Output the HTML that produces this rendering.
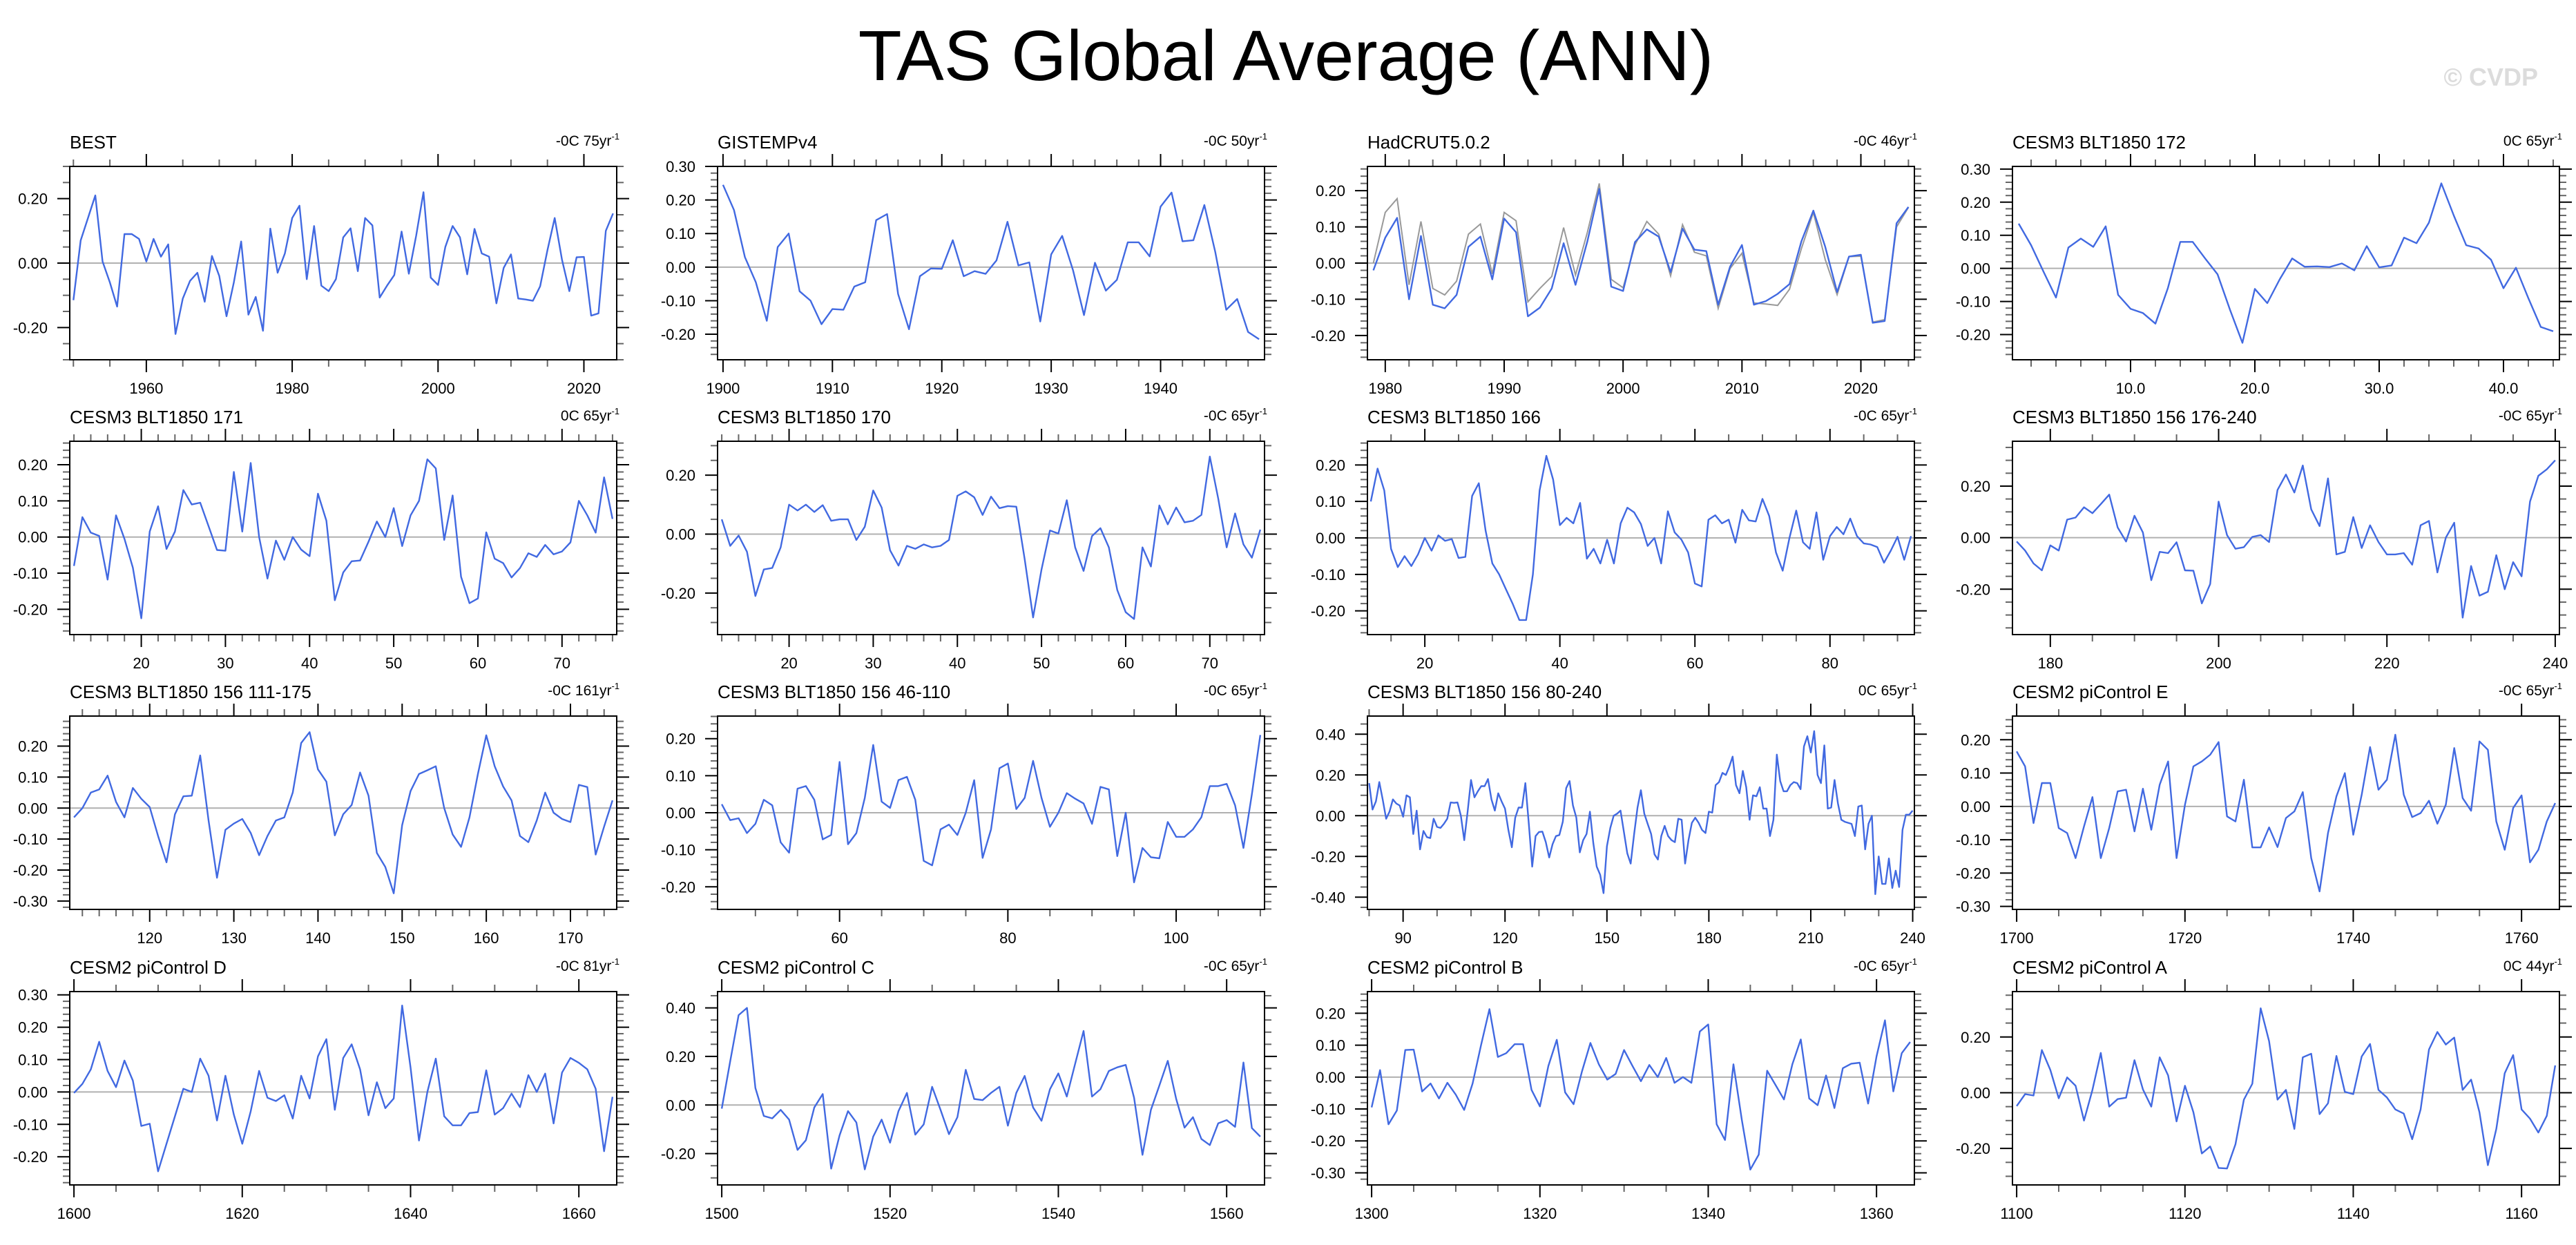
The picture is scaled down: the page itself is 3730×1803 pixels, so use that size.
<!DOCTYPE html>
<html><head><meta charset="utf-8"><title>TAS Global Average (ANN)</title>
<style>
html,body{margin:0;padding:0;background:#fff;}
body{width:3730px;height:1798px;overflow:hidden;position:relative;font-family:"Liberation Sans",sans-serif;}
svg text{font-family:"Liberation Sans",sans-serif;}
</style></head>
<body>
<svg id="chart" width="3730" height="1798" viewBox="0 0 3730 1798" xmlns="http://www.w3.org/2000/svg">
<text x="1862" y="116" font-size="103" text-anchor="middle" fill="#000">TAS Global Average (ANN)</text>
<text x="3675" y="124" font-size="36" font-weight="bold" text-anchor="end" fill="#dcdcdc">© CVDP</text>
</svg>
<script>
const titles = ["BEST","GISTEMPv4","HadCRUT5.0.2","CESM3 BLT1850 172","CESM3 BLT1850 171","CESM3 BLT1850 170","CESM3 BLT1850 166","CESM3 BLT1850 156 176-240","CESM3 BLT1850 156 111-175","CESM3 BLT1850 156 46-110","CESM3 BLT1850 156 80-240","CESM2 piControl E","CESM2 piControl D","CESM2 piControl C","CESM2 piControl B","CESM2 piControl A"];
const notes = ["-0C 75yr","-0C 50yr","-0C 46yr","0C 65yr","0C 65yr","-0C 65yr","-0C 65yr","-0C 65yr","-0C 161yr","-0C 65yr","0C 65yr","-0C 65yr","-0C 81yr","-0C 65yr","-0C 65yr","0C 44yr"];
const startYears = [1950,1900,1979,1,12,12,12,176,111,46,80,1700,1600,1500,1300,1100];
const yMins = [-0.30,-0.276,-0.267,-0.276,-0.27,-0.341,-0.265,-0.376,-0.327,-0.261,-0.46,-0.309,-0.287,-0.329,-0.338,-0.331];
const yMaxs = [0.30,0.30,0.267,0.308,0.265,0.315,0.265,0.374,0.297,0.261,0.489,0.271,0.31,0.467,0.268,0.363];
const yMajors = [0.2,0.1,0.1,0.1,0.1,0.2,0.1,0.2,0.1,0.1,0.2,0.1,0.1,0.2,0.1,0.2];
const yMinors = [0.05,0.02,0.02,0.02,0.02,0.05,0.02,0.05,0.02,0.02,0.05,0.02,0.02,0.05,0.02,0.05];
const xMajors = [20,10,10,10,10,10,20,20,10,20,30,20,20,20,20,20];
const xMinors = [5,2,2,2,2,2,5,5,2,5,10,5,5,5,5,5];
const xDecimals = [0,0,0,1,0,0,0,0,0,0,0,0,0,0,0,0];

const best = [-0.115,0.07,0.14,0.21,0.005,-0.06,-0.135,0.09,0.09,0.075,0.005,0.075,0.02,0.058,-0.22,-0.11,-0.055,-0.03,-0.12,0.022,-0.04,-0.165,-0.06,0.067,-0.16,-0.105,-0.21,0.107,-0.03,0.03,0.14,0.178,-0.05,0.115,-0.07,-0.087,-0.05,0.08,0.108,-0.025,0.14,0.117,-0.107,-0.07,-0.037,0.098,-0.033,0.085,0.22,-0.045,-0.068,0.05,0.115,0.08,-0.035,0.106,0.03,0.02,-0.125,-0.015,0.027,-0.11,-0.113,-0.117,-0.072,0.04,0.14,0.01,-0.087,0.018,0.019,-0.163,-0.156,0.1,0.154];
const gistemp = [0.245,0.17,0.03,-0.045,-0.16,0.06,0.1,-0.072,-0.1,-0.17,-0.125,-0.127,-0.058,-0.045,0.14,0.158,-0.08,-0.185,-0.027,-0.004,-0.005,0.08,-0.027,-0.012,-0.02,0.02,0.135,0.005,0.014,-0.162,0.038,0.093,-0.01,-0.143,0.013,-0.07,-0.038,0.074,0.074,0.032,0.18,0.222,0.077,0.08,0.185,0.045,-0.127,-0.095,-0.193,-0.215];
const hadcrut = [-0.02,0.07,0.125,-0.1,0.075,-0.115,-0.125,-0.088,0.045,0.073,-0.045,0.123,0.085,-0.147,-0.123,-0.07,0.055,-0.06,0.06,0.205,-0.065,-0.077,0.058,0.093,0.073,-0.025,0.095,0.037,0.033,-0.115,-0.01,0.05,-0.115,-0.105,-0.085,-0.058,0.06,0.145,0.045,-0.08,0.018,0.023,-0.165,-0.16,0.11,0.155];
const hadcrutRef = [0.0,0.14,0.178,-0.06,0.115,-0.07,-0.088,-0.05,0.08,0.108,-0.03,0.14,0.117,-0.107,-0.07,-0.037,0.098,-0.033,0.085,0.22,-0.045,-0.068,0.05,0.115,0.08,-0.035,0.106,0.03,0.02,-0.125,-0.015,0.027,-0.11,-0.113,-0.117,-0.072,0.04,0.14,0.01,-0.087,0.018,0.019,-0.163,-0.156,0.1,0.154];
const m172 = [0.135,0.07,-0.01,-0.088,0.063,0.09,0.065,0.127,-0.08,-0.122,-0.135,-0.167,-0.06,0.08,0.08,0.03,-0.018,-0.125,-0.225,-0.062,-0.105,-0.033,0.03,0.005,0.006,0.004,0.015,-0.006,0.067,0.003,0.009,0.093,0.076,0.138,0.257,0.16,0.07,0.06,0.026,-0.06,0.002,-0.09,-0.177,-0.19];
const m171 = [-0.08,0.055,0.012,0.003,-0.118,0.06,-0.005,-0.085,-0.225,0.015,0.085,-0.033,0.015,0.13,0.09,0.095,0.03,-0.036,-0.038,0.18,0.015,0.205,0.0,-0.115,-0.01,-0.063,0.0,-0.035,-0.053,0.12,0.045,-0.175,-0.098,-0.067,-0.065,-0.013,0.043,0.0,0.08,-0.025,0.06,0.1,0.215,0.19,-0.008,0.115,-0.11,-0.183,-0.17,0.013,-0.06,-0.072,-0.112,-0.086,-0.045,-0.055,-0.022,-0.048,-0.04,-0.015,0.1,0.06,0.012,0.165,0.05];
const m170 = [0.05,-0.04,-0.005,-0.06,-0.21,-0.12,-0.115,-0.045,0.1,0.08,0.1,0.075,0.098,0.045,0.05,0.05,-0.02,0.025,0.148,0.09,-0.055,-0.107,-0.04,-0.05,-0.035,-0.045,-0.04,-0.02,0.13,0.145,0.125,0.065,0.127,0.088,0.095,0.093,-0.085,-0.283,-0.12,0.012,0.002,0.115,-0.045,-0.125,-0.007,0.02,-0.045,-0.19,-0.265,-0.288,-0.045,-0.11,0.097,0.033,0.09,0.04,0.045,0.065,0.263,0.12,-0.045,0.07,-0.035,-0.08,0.015];
const m166 = [0.1,0.19,0.13,-0.03,-0.08,-0.05,-0.077,-0.045,0.0,-0.035,0.007,-0.008,-0.003,-0.055,-0.052,0.115,0.15,0.02,-0.07,-0.1,-0.14,-0.18,-0.225,-0.225,-0.1,0.13,0.225,0.16,0.035,0.055,0.04,0.096,-0.057,-0.03,-0.07,-0.005,-0.07,0.04,0.083,0.07,0.038,-0.022,0.0,-0.07,0.073,0.015,-0.005,-0.04,-0.125,-0.133,0.05,0.062,0.04,0.05,-0.013,0.077,0.048,0.045,0.107,0.06,-0.04,-0.09,0.0,0.075,-0.012,-0.03,0.07,-0.06,0.005,0.03,0.01,0.053,0.005,-0.015,-0.018,-0.025,-0.068,-0.035,0.003,-0.06,0.005];
const m156a = [-0.015,-0.05,-0.1,-0.127,-0.03,-0.05,0.07,0.078,0.118,0.095,0.13,0.167,0.04,-0.015,0.085,0.02,-0.165,-0.055,-0.06,-0.018,-0.127,-0.128,-0.255,-0.18,0.14,0.01,-0.043,-0.037,0.003,0.01,-0.017,0.185,0.245,0.175,0.28,0.11,0.045,0.23,-0.065,-0.055,0.08,-0.04,0.048,-0.017,-0.065,-0.065,-0.06,-0.105,0.048,0.065,-0.135,0.0,0.058,-0.31,-0.11,-0.225,-0.21,-0.068,-0.2,-0.095,-0.15,0.14,0.24,0.265,0.3];
const m156b = [-0.03,0.0,0.05,0.06,0.105,0.02,-0.03,0.065,0.03,0.003,-0.09,-0.175,-0.02,0.038,0.04,0.17,-0.04,-0.225,-0.07,-0.05,-0.035,-0.08,-0.152,-0.09,-0.04,-0.03,0.05,0.21,0.245,0.125,0.085,-0.088,-0.02,0.01,0.115,0.04,-0.145,-0.19,-0.275,-0.055,0.055,0.11,0.122,0.135,0.0,-0.085,-0.125,-0.03,0.11,0.235,0.135,0.07,0.025,-0.09,-0.11,-0.04,0.05,-0.015,-0.035,-0.045,0.075,0.068,-0.15,-0.06,0.025];
const m156c = [0.023,-0.02,-0.015,-0.055,-0.03,0.035,0.02,-0.08,-0.108,0.065,0.072,0.035,-0.072,-0.06,0.137,-0.085,-0.055,0.04,0.183,0.03,0.013,0.088,0.097,0.035,-0.13,-0.142,-0.045,-0.032,-0.06,0.0,0.088,-0.122,-0.045,0.12,0.133,0.01,0.04,0.14,0.04,-0.038,0.0,0.053,0.038,0.025,-0.03,0.07,0.063,-0.117,0.0,-0.188,-0.095,-0.12,-0.123,-0.025,-0.065,-0.065,-0.045,-0.012,0.072,0.072,0.078,0.02,-0.095,0.05,0.21];
const m156d = [0.16,0.03,0.07,0.165,0.08,-0.015,0.02,0.08,0.06,0.05,-0.005,0.1,0.09,-0.09,0.025,-0.165,-0.075,-0.105,-0.11,-0.015,-0.055,-0.06,-0.04,-0.015,0.065,0.063,0.065,0.0,-0.12,0.02,0.175,0.09,0.12,0.145,0.145,0.18,0.08,0.025,0.11,0.07,0.035,-0.07,-0.155,-0.01,0.04,0.04,0.16,-0.04,-0.25,-0.1,-0.08,-0.078,-0.13,-0.205,-0.14,-0.1,-0.095,-0.03,0.135,0.17,0.05,-0.01,-0.18,-0.12,-0.09,0.02,-0.135,-0.25,-0.29,-0.38,-0.15,-0.06,0.0,0.01,0.025,-0.08,-0.185,-0.235,-0.09,0.04,0.125,0.01,-0.04,-0.09,-0.19,-0.215,-0.1,-0.05,-0.1,-0.12,-0.13,-0.015,-0.02,-0.235,-0.12,-0.035,-0.01,-0.035,-0.07,-0.085,0.02,0.015,0.15,0.165,0.21,0.2,0.24,0.29,0.15,0.11,0.22,0.14,-0.02,0.1,0.095,0.14,0.035,0.035,-0.1,-0.02,0.3,0.17,0.12,0.12,0.15,0.165,0.16,0.13,0.34,0.39,0.31,0.415,0.2,0.16,0.345,0.035,0.04,0.175,0.06,-0.02,-0.03,-0.035,-0.04,-0.1,0.045,0.05,-0.165,-0.04,0.0,-0.385,-0.2,-0.335,-0.335,-0.21,-0.355,-0.27,-0.35,-0.07,0.005,0.005,0.025];
const picE = [0.165,0.12,-0.05,0.07,0.07,-0.065,-0.08,-0.155,-0.06,0.028,-0.155,-0.065,0.045,0.05,-0.075,0.053,-0.07,0.065,0.135,-0.155,0.005,0.12,0.135,0.155,0.193,-0.03,-0.045,0.08,-0.123,-0.123,-0.063,-0.122,-0.035,-0.015,0.043,-0.155,-0.255,-0.08,0.03,0.1,-0.085,0.035,0.178,0.05,0.08,0.215,0.035,-0.032,-0.02,0.017,-0.052,0.005,0.175,0.025,-0.013,0.195,0.17,-0.045,-0.13,-0.005,0.033,-0.168,-0.13,-0.045,0.01];
const picD = [-0.003,0.025,0.07,0.155,0.065,0.015,0.097,0.035,-0.105,-0.098,-0.245,-0.16,-0.075,0.01,0.0,0.103,0.05,-0.088,0.05,-0.07,-0.16,-0.06,0.065,-0.018,-0.028,-0.01,-0.082,0.05,-0.02,0.11,0.163,-0.055,0.105,0.147,0.07,-0.072,0.03,-0.05,-0.02,0.267,0.075,-0.15,0.0,0.103,-0.075,-0.103,-0.103,-0.065,-0.062,0.067,-0.07,-0.05,-0.005,-0.047,0.052,0.0,0.057,-0.097,0.06,0.105,0.09,0.07,0.01,-0.183,-0.015];
const picC = [-0.015,0.18,0.37,0.4,0.07,-0.045,-0.055,-0.02,-0.06,-0.185,-0.145,-0.01,0.045,-0.262,-0.125,-0.025,-0.072,-0.265,-0.13,-0.06,-0.155,-0.025,0.05,-0.122,-0.08,0.075,-0.02,-0.12,-0.05,0.145,0.025,0.02,0.05,0.075,-0.085,0.05,0.12,-0.01,-0.065,0.065,0.13,0.035,0.17,0.305,0.035,0.065,0.14,0.155,0.165,0.03,-0.205,-0.02,0.08,0.182,0.025,-0.093,-0.05,-0.14,-0.165,-0.075,-0.062,-0.09,0.175,-0.095,-0.13];
const picB = [-0.095,0.022,-0.148,-0.105,0.085,0.086,-0.045,-0.02,-0.067,-0.018,-0.055,-0.103,-0.02,0.1,0.213,0.063,0.075,0.103,0.103,-0.04,-0.092,0.035,0.117,-0.048,-0.085,0.018,0.107,0.04,-0.008,0.01,0.085,0.035,-0.013,0.038,0.0,0.06,-0.018,0.0,-0.018,0.143,0.165,-0.148,-0.197,0.04,-0.135,-0.29,-0.243,0.02,-0.025,-0.07,0.04,0.118,-0.067,-0.088,0.005,-0.097,0.028,0.042,0.045,-0.083,0.065,0.178,-0.045,0.075,0.11];
const picA = [-0.048,-0.005,-0.01,0.153,0.082,-0.02,0.055,0.025,-0.1,0.01,0.143,-0.05,-0.023,-0.018,0.117,0.012,-0.05,0.127,0.062,-0.103,0.025,-0.07,-0.218,-0.193,-0.27,-0.272,-0.185,-0.025,0.032,0.303,0.185,-0.025,0.01,-0.13,0.127,0.14,-0.077,-0.038,0.132,0.003,-0.005,0.13,0.175,0.01,-0.017,-0.06,-0.075,-0.167,-0.06,0.155,0.218,0.173,0.198,0.01,0.047,-0.07,-0.26,-0.13,0.07,0.135,-0.06,-0.093,-0.143,-0.083,0.098];

const series = [best,gistemp,hadcrut,m172,m171,m170,m166,m156a,m156b,m156c,m156d,picE,picD,picC,picB,picA];
const refSeries = {2: hadcrutRef};

const NS = "http://www.w3.org/2000/svg";
const svg = document.getElementById('chart');
const colLeft = [101, 1039, 1980, 2914];
const rowTop = [241, 639, 1037, 1436];
const BW = 792, BH = 280;

function mk(tag, attrs, parent){
  const e = document.createElementNS(NS, tag);
  for (const k in attrs) e.setAttribute(k, attrs[k]);
  parent.appendChild(e);
  return e;
}
function slug(s){ return s.toLowerCase().replace(/[^a-z0-9]+/g,'-').replace(/^-|-$/g,''); }

series.forEach((data, i) => {
  const L = colLeft[i % 4], T = rowTop[Math.floor(i / 4)];
  const x0 = startYears[i], x1 = x0 + data.length - 1;
  const xa = x0 - 0.5, xb = x1 + 0.5;
  const ya = yMins[i], yb = yMaxs[i];
  const X = v => L + (v - xa) / (xb - xa) * BW;
  const Y = v => T + BH - (v - ya) / (yb - ya) * BH;
  const g = mk('g', {}, svg);
  
  

  const t = mk('text', {x: L, y: T - 26, 'font-size': 26, fill: '#000'}, g);
  t.textContent = titles[i];
  
  
  const n = mk('text', {x: L + BW + 4, y: T - 30, 'font-size': 21, 'text-anchor': 'end', fill: '#000'}, g);
  n.textContent = notes[i];
  const sup = mk('tspan', {dy: -9, 'font-size': 13}, n);
  sup.textContent = '-1';
  
  

  const eps = 1e-6;
  let ms = yMinors[i];
  for (let k = Math.ceil((ya - eps) / ms); k * ms <= yb + eps; k++) {
    const v = k * ms, y = Y(v);
    const isMaj = Math.abs(v / yMajors[i] - Math.round(v / yMajors[i])) < 1e-4;
    const len = isMaj ? 18 : 10;
    const c = isMaj ? '#000' : '#666';
    const tl = mk('line', {x1: L - len, x2: L, y1: y, y2: y, stroke: c, 'stroke-width': 2}, g);
    
    
    const tr = mk('line', {x1: L + BW, x2: L + BW + len, y1: y, y2: y, stroke: c, 'stroke-width': 2}, g);
    
    
    if (isMaj) {
      const lb = mk('text', {x: L - 32, y: y + 8, 'font-size': 22, 'text-anchor': 'end', fill: '#000'}, g);
      const val = Math.abs(v) < 1e-6 ? 0 : v;
      lb.textContent = val.toFixed(2);
      
      
    }
  }
  const xm = xMinors[i];
  for (let k = Math.ceil(xa / xm); k * xm <= xb; k++) {
    const v = k * xm, x = X(v);
    const isMaj = v % xMajors[i] === 0;
    const len = isMaj ? 18 : 10;
    const c = isMaj ? '#000' : '#666';
    const tb = mk('line', {x1: x, x2: x, y1: T + BH, y2: T + BH + len, stroke: c, 'stroke-width': 2}, g);
    
    
    const tt = mk('line', {x1: x, x2: x, y1: T - len, y2: T, stroke: c, 'stroke-width': 2}, g);
    
    
    if (isMaj) {
      const lb = mk('text', {x: x, y: T + BH + 49, 'font-size': 22, 'text-anchor': 'middle', fill: '#000'}, g);
      lb.textContent = v.toFixed(xDecimals[i]);
      
      
    }
  }
  const z = mk('line', {x1: L, x2: L + BW, y1: Y(0), y2: Y(0), stroke: '#b0b0b0', 'stroke-width': 2}, g);
  
  
  if (refSeries[i]) {
    const r = refSeries[i];
    const pr = mk('polyline', {points: r.map((v, j) => X(x0 + j).toFixed(1) + ',' + Y(v).toFixed(1)).join(' '), fill: 'none', stroke: '#999', 'stroke-width': 2}, g);
    
    
  }
  const p = mk('polyline', {points: data.map((v, j) => X(x0 + j).toFixed(1) + ',' + Y(v).toFixed(1)).join(' '), fill: 'none', stroke: '#4169e1', 'stroke-width': 2.4, 'stroke-linejoin': 'round'}, g);
  
  
  const b = mk('rect', {x: L, y: T, width: BW, height: BH, fill: 'none', stroke: '#000', 'stroke-width': 2}, g);
  
  
});
</script>
</body></html>
